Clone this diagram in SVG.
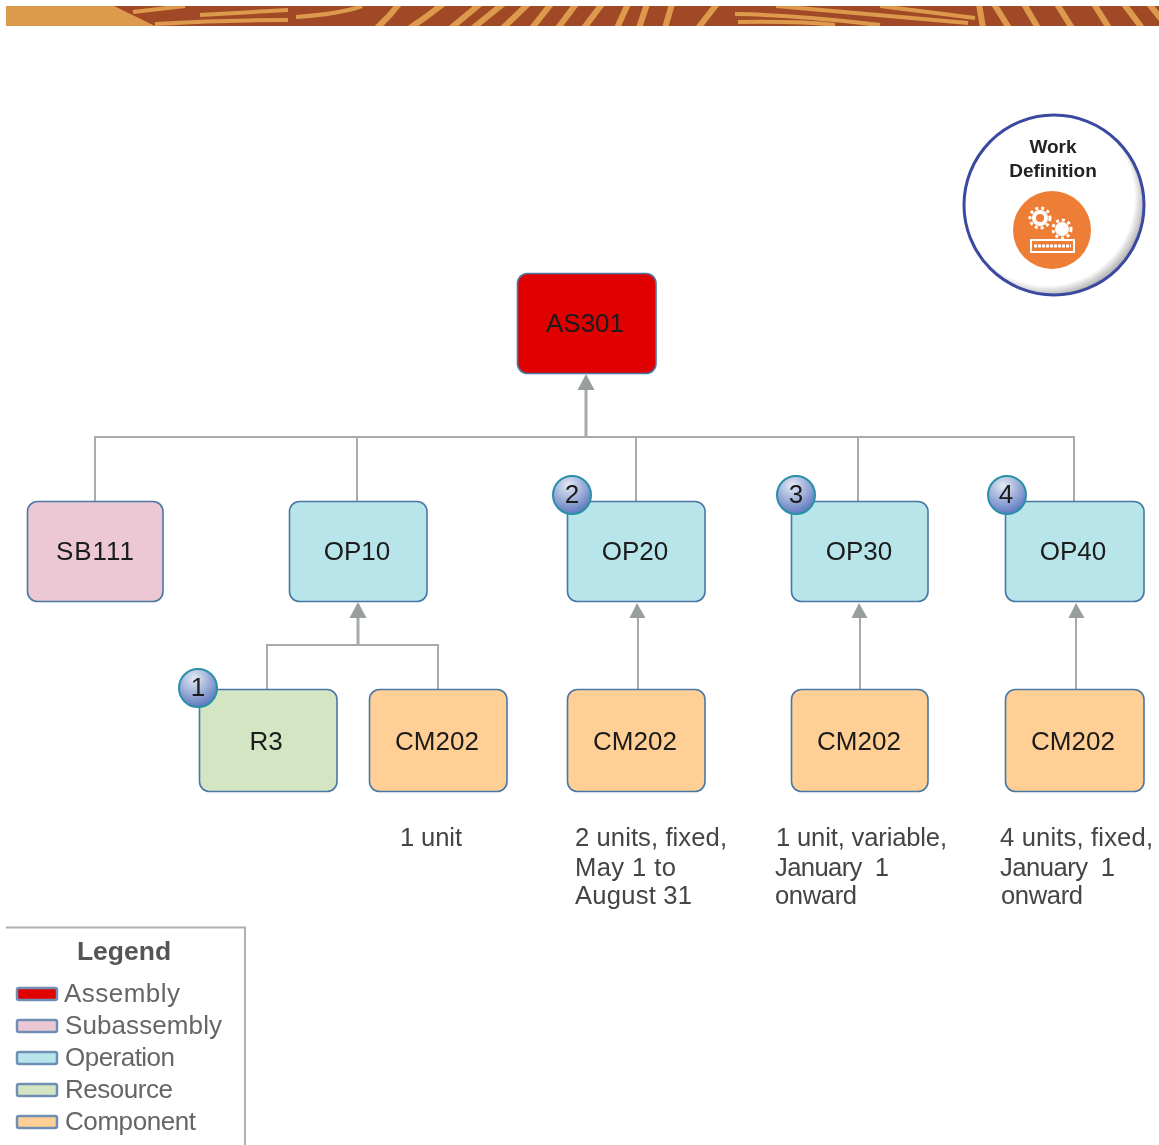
<svg xmlns="http://www.w3.org/2000/svg" width="1159" height="1145" viewBox="0 0 1159 1145">
<style>
.lbl{font-family:"Liberation Sans",Arial,sans-serif;font-size:26px;fill:#1a1a1a}
.c{text-anchor:middle}
.note{font-family:"Liberation Sans",Arial,sans-serif;font-size:25.6px;fill:#444}
.leg{font-family:"Liberation Sans",Arial,sans-serif;font-size:26px;fill:#666}
.box{stroke:#4A78A5;stroke-width:1.6}
.sw{stroke:#6F8FB5;stroke-width:2.5}
.as{fill:#E00000}.sb{fill:#ECC8D4}.op{fill:#B7E5EA}.rs{fill:#D3E5C3}.cm{fill:#FFCF96}
.ln{fill:none;stroke:#A7ABAB;stroke-width:2}
.tr{fill:none;stroke:#A7ABAB;stroke-width:3}
.ah{fill:#989E9E}
.bd{fill:url(#bg);stroke:#2A90A8;stroke-width:2}
.st{stroke:#DD9A4E;stroke-width:6;fill:none}
.sn{stroke:#DD9A4E;stroke-width:4;fill:none}
</style>
<defs>
<radialGradient id="bg" cx="40%" cy="25%" r="80%"><stop offset="0" stop-color="#E4EAF4"/><stop offset="1" stop-color="#5672BC"/></radialGradient>
<radialGradient id="sh" cx="46%" cy="46%" r="54%"><stop offset="0.9" stop-color="#fff"/><stop offset="1" stop-color="#bbb"/></radialGradient>
<filter id="b" x="-2%" y="-20%" width="104%" height="140%"><feGaussianBlur stdDeviation="0.7"/></filter>
<filter id="s" x="0" y="0" width="100%" height="100%" filterUnits="userSpaceOnUse" primitiveUnits="userSpaceOnUse"><feGaussianBlur stdDeviation="0.45"/></filter>
<clipPath id="bc"><rect x="6" y="6" width="1153" height="20"/></clipPath>
</defs>
<g id="banner" filter="url(#b)" clip-path="url(#bc)">
<rect x="6" y="6" width="1153" height="20" fill="#DD9A4E"/>
<polygon points="114,6 1159,6 1159,26 155,26" fill="#A14A25"/>
<g class="sn">
<path d="M155,24Q220,20 288,20"/><path d="M133,12L185,6"/><path d="M200,15L288,10"/>
<path d="M296,17Q340,14 362,6"/><path d="M735,14Q800,15 880,25"/><path d="M776,6L968,23"/><path d="M880,6L975,18"/><path d="M738,22Q800,21 835,25"/>
</g>
<g class="st">
<path d="M377,28Q390,16 399,4"/><path d="M410,28Q428,16 443,4"/>
<path d="M451,28L480,4"/><path d="M473,28L503,4"/><path d="M503,28L528,4"/><path d="M532,28L551,4"/><path d="M558,28L576,4"/><path d="M584,28L602,4"/>
<path d="M617,28L628,4"/><path d="M639,28L647,4"/><path d="M665,28L672,4"/><path d="M698,28L717,4"/>
<path d="M979,4L983,28"/><path d="M994,4L1009,28"/><path d="M1024,4L1038,28"/><path d="M1057,4L1072,28"/><path d="M1094,4L1109,28"/><path d="M1124,4L1142,28"/><path d="M1149,4L1161,19"/>
</g>
</g>
<g id="diagram" filter="url(#s)">
<g id="badge-work-definition">
<circle cx="1054" cy="205" r="90" fill="url(#sh)" stroke="#3B48A0" stroke-width="3"/>
<text x="1053" y="153" text-anchor="middle" font-family="'Liberation Sans',Arial,sans-serif" font-weight="700" font-size="19" fill="#222">Work</text>
<text x="1053" y="177" text-anchor="middle" font-family="'Liberation Sans',Arial,sans-serif" font-weight="700" font-size="19" fill="#222">Definition</text>
<circle cx="1052" cy="230" r="39" fill="#EE7D35"/>
<circle cx="1040" cy="218" r="6" fill="none" stroke="#fff" stroke-width="4"/>
<circle cx="1040" cy="218" r="10" fill="none" stroke="#fff" stroke-width="3" stroke-dasharray="3 3"/>
<circle cx="1062" cy="229" r="7" fill="#fff"/>
<circle cx="1062" cy="229" r="9" fill="none" stroke="#fff" stroke-width="3" stroke-dasharray="3 3"/>
<rect x="1031" y="240" width="43" height="12" fill="none" stroke="#fff" stroke-width="2"/>
<line x1="1034" y1="246" x2="1071" y2="246" stroke="#fff" stroke-width="3" stroke-dasharray="3 1"/>
</g>
<g id="connectors">
<path class="ln" d="M95,501V437H1074V501M357,437V501M636,437V501M858,437V501"/>
<path class="tr" d="M586,437V386"/><polygon class="ah" points="586,374 577.500,390 594.500,390"/>
<path class="ln" d="M267,689V645H438V689"/>
<path class="tr" d="M358,645V612"/><polygon class="ah" points="358,602 349.500,618 366.500,618"/>
<path class="ln" d="M638,689V612"/><polygon class="ah" points="637,603 629.500,618 645.500,618"/>
<path class="ln" d="M860,689V612"/><polygon class="ah" points="859,603 851.500,618 867.500,618"/>
<path class="ln" d="M1076,689V612"/><polygon class="ah" points="1076,603 1068.500,618 1084.500,618"/>
</g>
<g id="AS301"><rect class="box as" x="517.500" y="273.500" width="138.500" height="100" rx="10"/><text class="lbl c" x="585" y="332">AS301</text></g>
<g id="SB111"><rect class="box sb" x="27.500" y="501.500" width="135.500" height="100" rx="10"/><text class="lbl c" x="95" y="559.500" textLength="78">SB111</text></g>
<g id="OP10"><rect class="box op" x="289.500" y="501.500" width="137.500" height="100" rx="10"/><text class="lbl c" x="357" y="559.500">OP10</text></g>
<g id="OP20"><rect class="box op" x="567.500" y="501.500" width="137.500" height="100" rx="10"/><text class="lbl c" x="635" y="559.500">OP20</text></g>
<g id="OP30"><rect class="box op" x="791.500" y="501.500" width="136.500" height="100" rx="10"/><text class="lbl c" x="859" y="559.500">OP30</text></g>
<g id="OP40"><rect class="box op" x="1005.500" y="501.500" width="138.500" height="100" rx="10"/><text class="lbl c" x="1073" y="559.500">OP40</text></g>
<g id="R3"><rect class="box rs" x="199.500" y="689.500" width="137.500" height="102" rx="10"/><text class="lbl c" x="266" y="750">R3</text></g>
<g id="CM202-1"><rect class="box cm" x="369.500" y="689.500" width="137.500" height="102" rx="10"/><text class="lbl c" x="437" y="750">CM202</text></g>
<g id="CM202-2"><rect class="box cm" x="567.500" y="689.500" width="137.500" height="102" rx="10"/><text class="lbl c" x="635" y="750">CM202</text></g>
<g id="CM202-3"><rect class="box cm" x="791.500" y="689.500" width="136.500" height="102" rx="10"/><text class="lbl c" x="859" y="750">CM202</text></g>
<g id="CM202-4"><rect class="box cm" x="1005.500" y="689.500" width="138.500" height="102" rx="10"/><text class="lbl c" x="1073" y="750">CM202</text></g>
<g id="callout-1"><circle class="bd" cx="198" cy="688" r="19"/><text class="lbl c" x="198" y="696">1</text></g>
<g id="callout-2"><circle class="bd" cx="572" cy="495" r="19"/><text class="lbl c" x="572" y="503">2</text></g>
<g id="callout-3"><circle class="bd" cx="796" cy="495" r="19"/><text class="lbl c" x="796" y="503">3</text></g>
<g id="callout-4"><circle class="bd" cx="1007" cy="495" r="19"/><text class="lbl c" x="1006" y="503">4</text></g>
<g id="notes">
<text class="note" x="400" y="846" textLength="62">1 unit</text>
<text class="note" x="575" y="846" textLength="152">2 units, fixed,</text><text class="note" x="575" y="876" textLength="101">May 1 to</text><text class="note" x="575" y="904" textLength="117">August 31</text>
<text class="note" x="776" y="846" textLength="171">1 unit, variable,</text><text class="note" x="775" y="876" textLength="114" xml:space="preserve">January  1</text><text class="note" x="775" y="904" textLength="82">onward</text>
<text class="note" x="1000" y="846" textLength="153">4 units, fixed,</text><text class="note" x="1000" y="876" textLength="115" xml:space="preserve">January  1</text><text class="note" x="1001" y="904" textLength="82">onward</text>
</g>
<g id="legend">
<path d="M6,927.500H245V1145" fill="none" stroke="#B0B0B0" stroke-width="2"/>
<text x="124" y="960" text-anchor="middle" font-family="'Liberation Sans',Arial,sans-serif" font-weight="700" font-size="26.500" fill="#555">Legend</text>
<rect class="sw as" x="17" y="988" width="40" height="12" rx="2"/><text class="leg" x="64" y="1002" textLength="116">Assembly</text>
<rect class="sw sb" x="17" y="1020" width="40" height="12" rx="2"/><text class="leg" x="65" y="1034" textLength="157">Subassembly</text>
<rect class="sw op" x="17" y="1052" width="40" height="12" rx="2"/><text class="leg" x="65" y="1066" textLength="110">Operation</text>
<rect class="sw rs" x="17" y="1084" width="40" height="12" rx="2"/><text class="leg" x="65" y="1098" textLength="108">Resource</text>
<rect class="sw cm" x="17" y="1116" width="40" height="12" rx="2"/><text class="leg" x="65" y="1130" textLength="131">Component</text>
</g>
</g>
</svg>
